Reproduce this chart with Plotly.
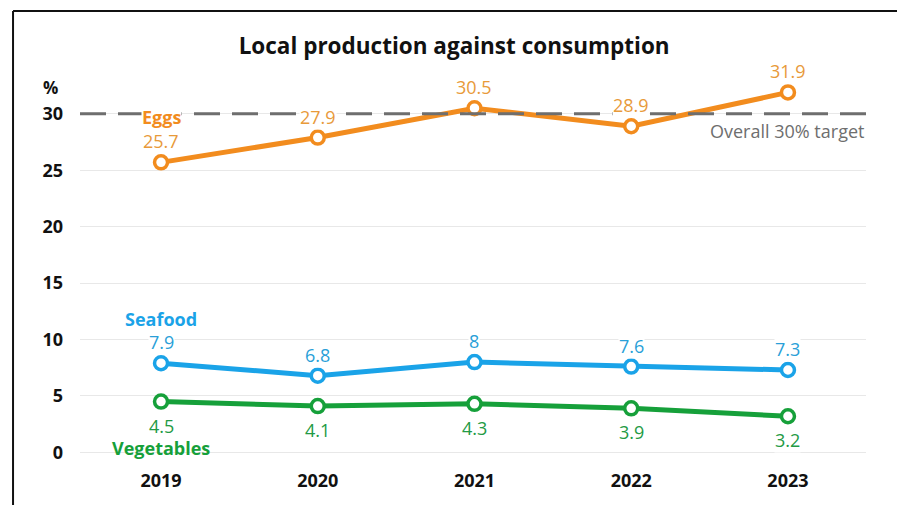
import plotly.graph_objects as go

# Share of local production against consumption, by year (%)
years = ["2019", "2020", "2021", "2022", "2023"]
eggs = [25.7, 27.9, 30.5, 28.9, 31.9]
seafood = [7.9, 6.8, 8, 7.6, 7.3]
vegetables = [4.5, 4.1, 4.3, 3.9, 3.2]
target = 30
y_ticks = [0, 5, 10, 15, 20, 25, 30]

ORANGE, ORANGE_TXT = "#F28C1E", "#E89A3A"
BLUE, BLUE_TXT = "#1AA3E8", "#2A9FD8"
GREEN, GREEN_TXT = "#16A03A", "#239A45"
GREY = "#6E6E6E"
INK = "#111111"
FONT = "Open Sans"

fig = go.Figure()

# 30% target reference line spanning the full plot width (on a hidden 0-1 x axis)
fig.add_trace(go.Scatter(
    x=[0, 1], y=[target, target], xaxis="x2",
    mode="lines", line=dict(color=GREY, width=3, dash="26px,12px"),
    showlegend=False, hoverinfo="skip",
))

annotations = []


def add_series(values, line_col, text_col, shift):
    fig.add_trace(go.Scatter(
        x=years, y=values,
        mode="lines+markers",
        line=dict(color=line_col, width=5),
        marker=dict(size=13, color="white", line=dict(color=line_col, width=3.5)),
        cliponaxis=False,
        showlegend=False,
        hoverinfo="skip",
    ))
    # value labels on a white backing so the target line breaks behind them
    for i, v in enumerate(values):
        annotations.append(dict(
            x=i, y=v, text=f"{v:g}", yshift=shift, yanchor="middle",
            bgcolor="white", borderpad=0,
            font=dict(family=FONT, size=18, color=text_col),
        ))


add_series(eggs, ORANGE, ORANGE_TXT, 21)
add_series(seafood, BLUE, BLUE_TXT, 21)
add_series(vegetables, GREEN, GREEN_TXT, -24)

# Series names sit by the first year's point (category index 0)
annotations += [
    dict(x=0, y=29.7, text="<b>Eggs</b>", bgcolor="white", borderpad=0,
         font=dict(color=ORANGE, size=18, family=FONT)),
    dict(x=0, y=11.8, text="<b>Seafood</b>", font=dict(color=BLUE, size=18, family=FONT)),
    dict(x=0, y=0.35, text="<b>Vegetables</b>", font=dict(color=GREEN, size=18, family=FONT)),
    dict(x=1.0, xref="paper", y=28.5, text="Overall 30% target", xanchor="right",
         font=dict(color=GREY, size=18, family=FONT)),
    dict(x=-0.037, y=0.979, xref="paper", yref="paper", text="<b>%</b>",
         xanchor="center", yanchor="middle",
         font=dict(color=INK, size=17, family=FONT)),
]
for a in annotations:
    a.setdefault("showarrow", False)

fig.update_layout(
    width=897, height=505,
    margin=dict(l=80, r=31, t=80, b=47),
    paper_bgcolor="white", plot_bgcolor="white",
    title=dict(text="<b>Local production against consumption</b>",
               x=0.476, xref="paper", xanchor="center", y=0.909, yanchor="middle",
               font=dict(family=FONT, size=22.5, color=INK)),
    xaxis=dict(type="category", range=[-0.517, 4.498], showgrid=False,
               showline=False, zeroline=False,
               tickfont=dict(family=FONT, size=18, color=INK, weight="bold"),
               ticklabelstandoff=10),
    xaxis2=dict(overlaying="x", range=[0, 1], visible=False),
    yaxis=dict(range=[-0.5, 33], tickvals=y_ticks, showgrid=True,
               gridcolor="#E8E8E8", gridwidth=1, zeroline=False, showline=False,
               tickfont=dict(family=FONT, size=18, color=INK, weight="bold"),
               ticklabelstandoff=16),
    annotations=annotations,
    shapes=[
        # frame edges
        dict(type="line", xref="paper", yref="paper", x0=-0.0852, x1=-0.0852,
             y0=1.1825, y1=-0.2, line=dict(color=INK, width=2)),
        dict(type="line", xref="paper", yref="paper", x0=-0.0852, x1=1.1,
             y0=1.1825, y1=1.1825, line=dict(color=INK, width=2)),
    ],
)

fig.write_html("out.html")
